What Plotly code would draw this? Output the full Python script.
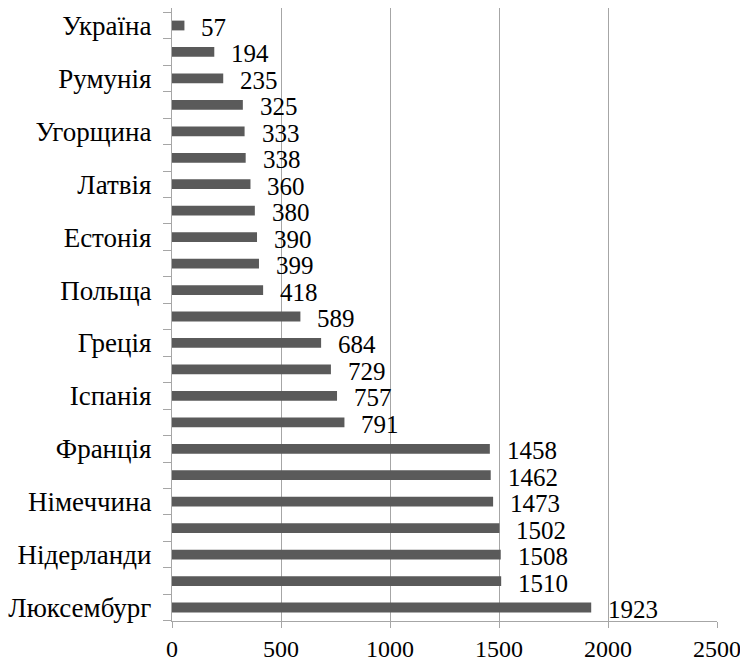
import plotly.graph_objects as go

# Countries listed top to bottom (as in the chart)
countries = [
    "Україна", "Болгарія", "Румунія", "Литва", "Угорщина", "Чехія",
    "Латвія", "Словаччина", "Естонія", "Хорватія", "Польща", "Португалія",
    "Греція", "Мальта", "Іспанія", "Словенія", "Франція", "Ірландія",
    "Німеччина", "Велика Британія", "Нідерланди", "Бельгія", "Люксембург",
]
values = [57, 194, 235, 325, 333, 338, 360, 380, 390, 399, 418, 589,
          684, 729, 757, 791, 1458, 1462, 1473, 1502, 1508, 1510, 1923]
# Only these category labels are printed on the axis
shown_labels = ["Україна", "Румунія", "Угорщина", "Латвія", "Естонія", "Польща",
                "Греція", "Іспанія", "Франція", "Німеччина", "Нідерланди", "Люксембург"]
x_ticks = [0, 500, 1000, 1500, 2000, 2500]

FONT = "Liberation Serif"

fig = go.Figure()
fig.add_trace(go.Bar(
    x=values, y=countries, orientation="h",
    marker=dict(color="#5a5a5a", line=dict(width=0)),
    hoverinfo="x+y",
))

for c, v in zip(countries, values):
    fig.add_annotation(x=v, y=c, text=str(v), showarrow=False,
                       xanchor="left", yanchor="middle", xshift=15, yshift=-2,
                       font=dict(family=FONT, size=25, color="#000000"))

fig.update_layout(
    width=740, height=655,
    margin=dict(l=164, r=31, t=0, b=42),
    paper_bgcolor="white", plot_bgcolor="white",
    bargap=0.63,
    showlegend=False,
    font=dict(family=FONT, size=25, color="#000000"),
)
fig.update_xaxes(
    range=[0, 2500], tickvals=x_ticks, ticktext=[str(t) for t in x_ticks],
    showgrid=True, gridcolor="#a6a6a6", gridwidth=1.3,
    zeroline=False, showline=True, linecolor="#a6a6a6", linewidth=1.3,
    ticks="outside", ticklen=6, tickcolor="#a6a6a6",
    automargin=False,
    tickfont=dict(family=FONT, size=24, color="#000000"),
)
fig.update_yaxes(
    type="category", categoryorder="array", categoryarray=countries,
    autorange="reversed",
    tickvals=countries,
    ticktext=[c if c in shown_labels else "" for c in countries],
    tickson="boundaries", ticks="outside", ticklen=8, tickcolor="#a6a6a6",
    ticklabelstandoff=14,
    showgrid=False, showline=True, linecolor="#a6a6a6", linewidth=1.3,
    zeroline=False,
    tickfont=dict(family=FONT, size=27, color="#000000"),
)

fig.write_html("out.html")
